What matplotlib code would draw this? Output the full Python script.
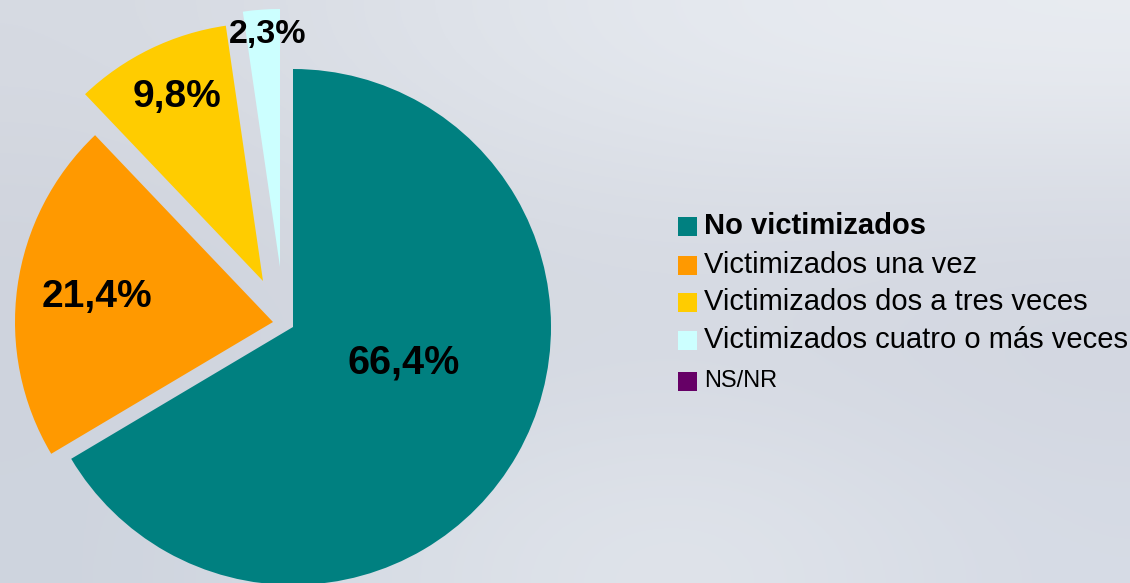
import numpy as np
import matplotlib
matplotlib.use("Agg")
import matplotlib.pyplot as plt
from matplotlib.patches import Rectangle

plt.rcParams['font.family'] = ['Liberation Sans', 'DejaVu Sans']

# ---- data ----
categories = ["No victimizados", "Victimizados una vez", "Victimizados dos a tres veces",
              "Victimizados cuatro o más veces", "NS/NR"]
values = [66.4, 21.4, 9.8, 2.3, 0.0]
colors = ["#008080", "#FF9900", "#FFCC00", "#CCFFFF", "#660066"]

# ---- layout (pixels) ----
slice_shift = [(0, 0), (-20, 5), (-30, 46), (-13, 60), (0, 0)]   # exploded offsets
label_pos = [(404, 362), (97, 297), (177, 97), (268, 35)]
label_size = [28.5, 28, 28, 24.5]

W, H = 1130, 583
fig = plt.figure(figsize=(W / 100, H / 100), dpi=100)

# background (cloudy grey)
bg = fig.add_axes([0, 0, 1, 1])
grid = np.array([
    [[214, 218, 226], [222, 226, 233], [230, 234, 240], [233, 236, 241]],
    [[208, 212, 221], [214, 218, 226], [216, 220, 228], [214, 218, 227]],
    [[206, 211, 221], [212, 216, 225], [214, 218, 227], [210, 214, 224]],
    [[206, 212, 222], [218, 223, 231], [226, 230, 236], [214, 219, 229]],
], dtype=float) / 255.0
bg.imshow(grid, extent=[0, W, 0, H], aspect='auto', interpolation='bicubic')
bg.set_xlim(0, W)
bg.set_ylim(0, H)
bg.axis('off')

ax = fig.add_axes([0, 0, 1, 1])
ax.patch.set_alpha(0)
cx, cy = 293, H - 327
wedges, _ = ax.pie(values, colors=colors, startangle=90,
                   counterclock=False, radius=258, center=(cx, cy), frame=False,
                   wedgeprops=dict(linewidth=0))
for w, (dx, dy) in zip(wedges, slice_shift):
    w.set_center((cx + dx, cy + dy))
ax.set_xlim(0, W)
ax.set_ylim(0, H)
ax.set_aspect('equal')
ax.axis('off')

for v, (px, py), fs in zip(values, label_pos, label_size):
    ax.text(px, H - py, f"{v:.1f}".replace('.', ',') + '%', ha='center', va='center',
            fontsize=fs, fontweight='bold', color='black')

# legend
leg_y = [226, 265, 302, 340, 381]
for i, (lab, col) in enumerate(zip(categories, colors)):
    y = H - leg_y[i]
    ax.add_patch(Rectangle((678, y - 9.5), 19, 19, facecolor=col, edgecolor='none'))
    ax.text(704, y, lab, ha='left', va='center',
            fontsize=17 if lab == "NS/NR" else 21,
            fontweight='bold' if i == 0 else 'normal', color='black')

fig.savefig("out.png", dpi=100)
